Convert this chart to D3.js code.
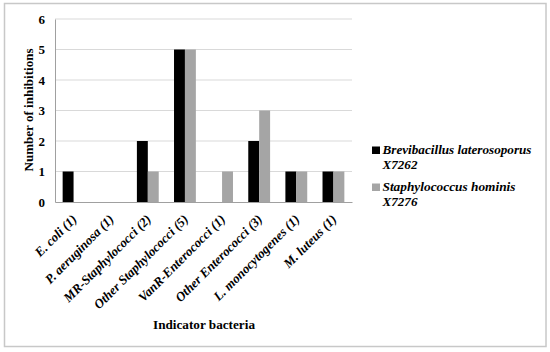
<!DOCTYPE html>
<html>
<head>
<meta charset="utf-8">
<script src="https://cdn.jsdelivr.net/npm/d3@7"></script>
<style>
  body { margin: 0; background: #fff; }
</style>
</head>
<body>
<svg width="550" height="352"></svg>
<script>
const categories = ['E. coli (1)', 'P. aeruginosa (1)', 'MR-Staphylococci (2)', 'Other Staphylococci (5)',
    'VanR-Enterococci (1)', 'Other Enterococci (3)', 'L. monocytogenes (1)', 'M. luteus (1)'];
const seriesNames = [['Brevibacillus laterosoporus', 'X7262'], ['Staphylococcus hominis', 'X7276']];
const brevibacillus = [1, 0, 2, 5, 0, 2, 1, 1];
const staphylococcus = [0, 0, 1, 5, 1, 3, 1, 1];
const yTicks = [0, 1, 2, 3, 4, 5, 6];
const colors = ['#000000', '#a5a5a5'];

const serif = "'Liberation Serif', 'Times New Roman', serif";
const svg = d3.select('svg');

// outer frame
svg.append('rect')
    .attr('x', 4.5).attr('y', 3.5)
    .attr('width', 541.5).attr('height', 343)
    .attr('fill', 'none').attr('stroke', '#c8c8c8').attr('stroke-width', 1.5);

const margin = { top: 19, left: 55 };
const innerWidth = 297;
const innerHeight = 183;

const g = svg.append('g')
    .attr('transform', `translate(${margin.left}, ${margin.top})`);

const xScale = d3.scaleBand()
    .domain(categories)
    .range([0, innerWidth]);

const xSub = d3.scaleBand()
    .domain([0, 1])
    .range([0, xScale.bandwidth()])
    .paddingInner(0)
    .paddingOuter(0.7);

const yScale = d3.scaleLinear()
    .domain([0, 6])
    .range([innerHeight, 0]);

// gridlines
g.selectAll('.grid').data(yTicks.slice(1))
    .enter().append('line')
        .attr('x1', 0).attr('x2', innerWidth)
        .attr('y1', d => yScale(d)).attr('y2', d => yScale(d))
        .attr('stroke', '#d9d9d9').attr('stroke-width', 1);

// bars
const series = [brevibacillus, staphylococcus];
series.forEach((values, si) => {
    g.append('g').selectAll('rect').data(values)
        .enter().append('rect')
            .attr('x', (d, i) => xScale(categories[i]) + xSub(si))
            .attr('y', d => yScale(d))
            .attr('width', xSub.bandwidth())
            .attr('height', d => innerHeight - yScale(d))
            .attr('fill', colors[si]);
});

// y axis
const yAxis = g.append('g')
    .call(d3.axisLeft(yScale).tickValues(yTicks).tickFormat(d3.format('d')).tickSize(0).tickPadding(10));
yAxis.select('.domain').attr('stroke', '#a0a0a0');
yAxis.selectAll('text')
    .style('font-family', serif)
    .attr('font-size', 13).attr('font-weight', 'bold').attr('fill', '#000');

// x axis
const xAxis = g.append('g')
    .attr('transform', `translate(0, ${innerHeight})`)
    .call(d3.axisBottom(xScale).tickSize(0));
xAxis.select('.domain').attr('stroke', '#a0a0a0');
xAxis.selectAll('text')
    .style('font-family', serif)
    .attr('font-size', 13).attr('font-weight', 'bold').attr('font-style', 'italic')
    .attr('fill', '#000')
    .attr('text-anchor', 'end')
    .attr('x', 0).attr('y', 0).attr('dy', 0)
    .attr('transform', 'translate(4, 18) rotate(-45)');

// axis titles
svg.append('text')
    .attr('transform', 'translate(32.5, 110) rotate(-90)')
    .attr('text-anchor', 'middle')
    .style('font-family', serif)
    .attr('font-size', 13.5).attr('font-weight', 'bold')
    .attr('textLength', 123).attr('lengthAdjust', 'spacingAndGlyphs')
    .text('Number of inhibitions');

svg.append('text')
    .attr('x', 204).attr('y', 329)
    .attr('text-anchor', 'middle')
    .style('font-family', serif)
    .attr('font-size', 13.5).attr('font-weight', 'bold')
    .attr('textLength', 102).attr('lengthAdjust', 'spacingAndGlyphs')
    .text('Indicator bacteria');

// legend
const legendLengths = [[149, 35], [133, 35]];
const legend = svg.append('g').attr('transform', 'translate(372, 0)');
seriesNames.forEach((lines, i) => {
    const y0 = 154 + i * 37;
    legend.append('rect')
        .attr('x', 0).attr('y', y0 - 7.5)
        .attr('width', 8).attr('height', 7.5)
        .attr('fill', colors[i]);
    lines.forEach((line, j) => {
        legend.append('text')
            .attr('x', 10.5).attr('y', y0 + j * 15)
            .style('font-family', serif)
            .attr('font-size', 13.5).attr('font-weight', 'bold').attr('font-style', 'italic')
            .attr('textLength', legendLengths[i][j]).attr('lengthAdjust', 'spacingAndGlyphs')
            .text(line);
    });
});
</script>
</body>
</html>
